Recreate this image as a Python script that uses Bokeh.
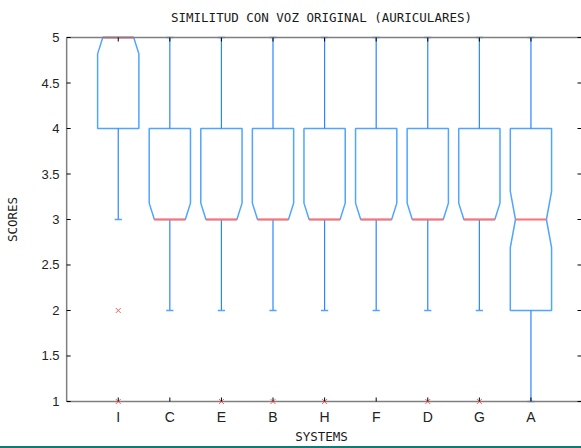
from bokeh.plotting import figure
from bokeh.models import Range1d, FixedTicker, Div
from bokeh.layouts import column
from bokeh.embed import file_html
from bokeh.resources import INLINE

# Box statistics for each system (scores from 1 to 5)
systems = ["I", "C", "E", "B", "H", "F", "D", "G", "A"]
q1 = [4, 3, 3, 3, 3, 3, 3, 3, 2]
median = [5, 3, 3, 3, 3, 3, 3, 3, 3]
q3 = [5, 4, 4, 4, 4, 4, 4, 4, 4]
whisker_lo = [3, 2, 2, 2, 2, 2, 2, 2, 1]
whisker_hi = [5, 5, 5, 5, 5, 5, 5, 5, 5]
notch = [0.18, 0.18, 0.18, 0.18, 0.18, 0.18, 0.18, 0.18, 0.31]

# Outliers (system, score)
outlier_system = ["I", "I", "E", "B", "H", "D", "G"]
outlier_score = [2, 1, 1, 1, 1, 1, 1]

y_ticks = [1, 1.5, 2, 2.5, 3, 3.5, 4, 4.5, 5]
Y_MIN, Y_MAX = 1, 5
X_MIN, X_MAX = 0, 9.98

BOX_HALF = 0.4
NOTCH_HALF = 0.3
CAP_HALF = 0.07
BOX_COLOR = "#4fa5ff"
WHISKER_COLOR = "#2a86ff"
MEDIAN_COLOR = "#ff7272"
FRAME_COLOR = "#7f7f7f"
MONO = "DejaVu Sans Mono"
SANS = "Liberation Sans"

pos = {s: i + 1 for i, s in enumerate(systems)}

# The plotting area is padded a little beyond the axes box so that
# markers sitting on the box edge are not cut off.
p = figure(width=581, height=446,
           x_range=Range1d(X_MIN - 0.1, X_MAX), y_range=Range1d(Y_MIN - 0.055, Y_MAX + 0.055),
           output_backend="svg", toolbar_location=None,
           min_border_left=61, min_border_right=0, min_border_top=32, min_border_bottom=40)
p.grid.visible = False
p.outline_line_color = None
p.background_fill_color = "white"
p.border_fill_color = "white"

p.title.text = "SIMILITUD CON VOZ ORIGINAL (AURICULARES)"
p.title.align = "center"
p.title.text_font = MONO
p.title.text_font_size = "12.5px"
p.title.text_font_style = "normal"
p.title.text_color = "#1a1a1a"
p.title.standoff = 15

# Notched boxes
xs, ys = [], []
for i, s in enumerate(systems):
    x = pos[s]
    lo, med, hi, n = q1[i], median[i], q3[i], notch[i]
    levels = []
    if hi > med:
        levels.append((hi, BOX_HALF))
    if med + n < hi:
        levels.append((med + n, BOX_HALF))
    levels.append((med, NOTCH_HALF))
    if med - n > lo:
        levels.append((med - n, BOX_HALF))
    if lo < med:
        levels.append((lo, BOX_HALF))
    left = [(x - w, y) for y, w in levels]
    right = [(x + w, y) for y, w in reversed(levels)]
    pts = left + right
    xs.append([a for a, _ in pts])
    ys.append([b for _, b in pts])
p.patches(xs, ys, fill_color=None, line_color=BOX_COLOR, line_width=1.5)

# Whiskers and caps
wx0, wy0, wx1, wy1 = [], [], [], []
cx0, cx1, cy = [], [], []
for i, s in enumerate(systems):
    x = pos[s]
    if whisker_hi[i] > q3[i]:
        wx0.append(x); wy0.append(q3[i]); wx1.append(x); wy1.append(whisker_hi[i])
        cx0.append(x - CAP_HALF); cx1.append(x + CAP_HALF); cy.append(whisker_hi[i])
    if whisker_lo[i] < q1[i]:
        wx0.append(x); wy0.append(q1[i]); wx1.append(x); wy1.append(whisker_lo[i])
        cx0.append(x - CAP_HALF); cx1.append(x + CAP_HALF); cy.append(whisker_lo[i])
p.segment(wx0, wy0, wx1, wy1, line_color=WHISKER_COLOR, line_width=1.2)
p.segment(cx0, cy, cx1, cy, line_color=BOX_COLOR, line_width=1.5)

# Medians
mx = [pos[s] for s in systems]
p.segment([x - NOTCH_HALF for x in mx], median, [x + NOTCH_HALF for x in mx], median,
          line_color=MEDIAN_COLOR, line_width=2)

# Axes box: bottom, top and left edges
p.segment([X_MIN, X_MIN, X_MIN], [Y_MIN, Y_MAX, Y_MIN], [X_MAX, X_MAX, X_MIN], [Y_MIN, Y_MAX, Y_MAX],
          line_color=FRAME_COLOR, line_width=1.5)

# Outliers
p.scatter([pos[s] for s in outlier_system], outlier_score, marker="x", size=7,
          line_color="#ff5a5a", line_width=1)

# Inward tick marks on all four sides of the box
cats = [pos[s] for s in systems]
p.ray(x=cats, y=[Y_MIN] * len(cats), length=4, length_units="screen",
      angle=90, angle_units="deg", line_color="black", line_width=1)
p.ray(x=cats, y=[Y_MAX] * len(cats), length=4, length_units="screen",
      angle=-90, angle_units="deg", line_color="black", line_width=1)
p.ray(x=[X_MIN] * len(y_ticks), y=y_ticks, length=4, length_units="screen",
      angle=0, angle_units="deg", line_color="black", line_width=1)
p.ray(x=[X_MAX] * len(y_ticks), y=y_ticks, length=4, length_units="screen",
      angle=180, angle_units="deg", line_color="black", line_width=1)

# Axis labels and tick labels
x_labels = {pos[s]: s for s in systems}
y_labels = {t: (str(int(t)) if float(t).is_integer() else str(t)) for t in y_ticks}


def style_axis(ax):
    ax.axis_line_color = None
    ax.major_tick_in = 0
    ax.major_tick_out = 0
    ax.major_tick_line_color = None
    ax.minor_tick_line_color = None
    ax.major_label_text_color = "#222222"
    ax.axis_label_text_font = MONO
    ax.axis_label_text_font_size = "12.5px"
    ax.axis_label_text_font_style = "normal"
    ax.axis_label_text_color = "#1a1a1a"


xa = p.xaxis[0]
xa.ticker = FixedTicker(ticks=list(x_labels.keys()))
xa.major_label_overrides = x_labels
style_axis(xa)
xa.major_label_text_font = SANS
xa.major_label_text_font_size = "14px"
xa.major_label_standoff = 2
xa.axis_label = "SYSTEMS"
xa.axis_label_standoff = 1

ya = p.yaxis[0]
ya.ticker = FixedTicker(ticks=y_ticks)
ya.major_label_overrides = y_labels
style_axis(ya)
ya.major_label_text_font = SANS
ya.major_label_text_font_size = "13px"
ya.major_label_standoff = 2
ya.axis_label = "SCORES"
ya.axis_label_standoff = 18

band = Div(text="", width=581, height=2, margin=0,
           styles={"background-color": "#0a7d79"})

layout = column(p, band, spacing=0)
open("out.html", "w").write(file_html(layout, INLINE))
